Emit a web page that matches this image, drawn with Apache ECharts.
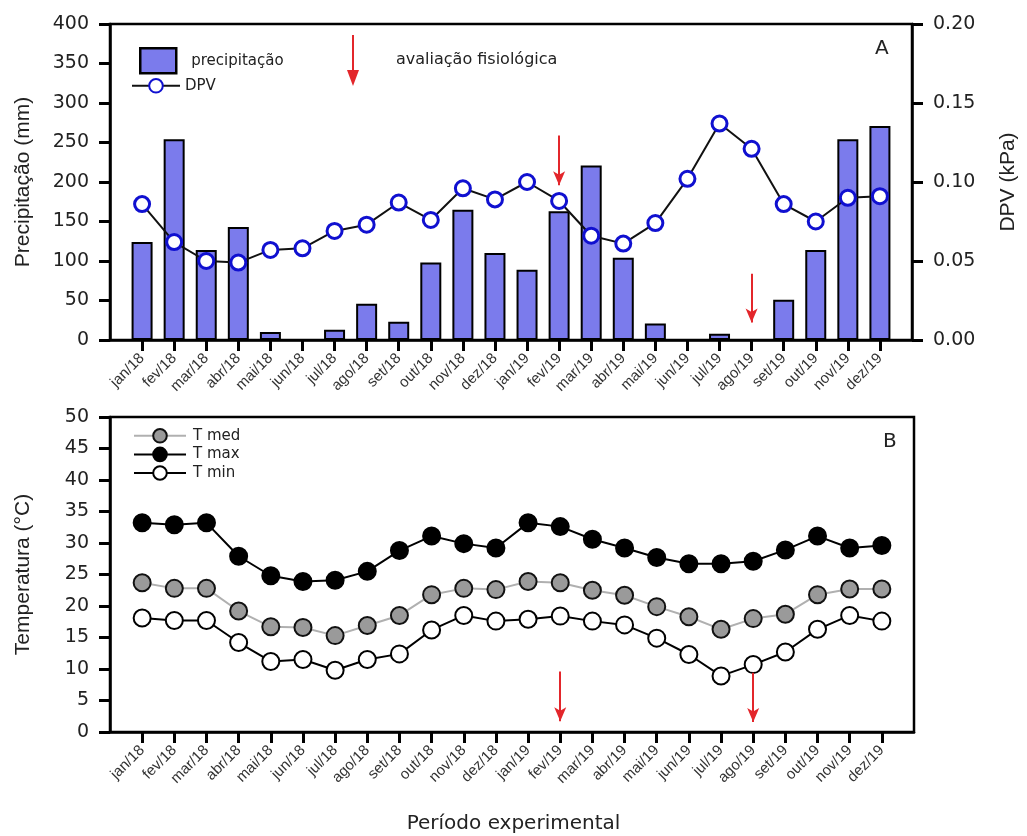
<!DOCTYPE html>
<html>
<head>
<meta charset="utf-8">
<script src="https://cdn.jsdelivr.net/npm/echarts@6/dist/echarts.min.js"></script>
<style>html,body{margin:0;padding:0;background:#fff;}#c{width:1027px;height:836px;}</style>
</head>
<body>
<div id="c"></div>
<script>
const months = ['jan/18','fev/18','mar/18','abr/18','mai/18','jun/18','jul/18','ago/18','set/18','out/18','nov/18','dez/18',
                'jan/19','fev/19','mar/19','abr/19','mai/19','jun/19','jul/19','ago/19','set/19','out/19','nov/19','dez/19'];
const precipitacao = [124,254,114,143,10,0,13,46,23,98,165,110,89,163,221,104,21,0,8,0,51,114,254,271];
const dpv = [0.086,0.062,0.050,0.049,0.057,0.058,0.069,0.073,0.087,0.076,0.096,0.089,
             0.100,0.088,0.066,0.061,0.074,0.102,0.137,0.121,0.086,0.075,0.090,0.091];
const tMed = [23.7,22.8,22.8,19.2,16.7,16.6,15.3,16.9,18.5,21.8,22.8,22.6,
              23.9,23.7,22.5,21.7,19.9,18.3,16.3,18.0,18.7,21.8,22.7,22.7];
const tMax = [33.2,32.9,33.2,27.9,24.8,23.9,24.1,25.5,28.8,31.1,29.9,29.2,
              33.2,32.6,30.6,29.2,27.7,26.7,26.7,27.1,28.9,31.1,29.2,29.6];
const tMin = [18.1,17.7,17.7,14.2,11.2,11.5,9.8,11.5,12.4,16.2,18.5,17.6,
              17.9,18.4,17.6,17.0,14.9,12.3,8.9,10.7,12.7,16.3,18.5,17.6];
const precipTicks = [0, 400, 50];
const dpvTicks = [0, 0.2, 0.05];
const tempTicks = [0, 50, 5];
// arrows: [category, from, to]
const arrowsTop = [['fev/19', 259, 196], ['ago/19', 84, 22]];
const arrowsBottom = [['fev/19', 9.6, 1.7], ['ago/19', 9.4, 1.6]];

const FONT = '"Liberation Sans", Arial, sans-serif';
const WIDE = '"DejaVu Sans", sans-serif';
const cats = [''].concat(months, ['']);
const pad = a => [null].concat(a, [null]);
const RED = '#e3262b';

function xAxis(gridIndex) {
  return {
    type: 'category', gridIndex, data: cats, boundaryGap: false,
    axisLine: { lineStyle: { color: '#000', width: 2.5 } },
    axisTick: { length: 11, lineStyle: { color: '#000', width: 3 }, interval: (i, v) => v !== '' },
    axisLabel: { rotate: 45, interval: 0, margin: 16, fontSize: 15, color: '#333', fontFamily: FONT },
    splitLine: { show: false }
  };
}
function yAxis(gridIndex, t, pos, name, nameGap, fmt) {
  return {
    type: 'value', gridIndex, min: t[0], max: t[1], interval: t[2], position: pos,
    name, nameLocation: 'middle', nameGap, nameRotate: 90,
    nameTextStyle: { fontSize: 21, color: '#222', fontFamily: FONT },
    axisLine: { show: true, lineStyle: { color: '#000', width: 2.5 } },
    axisTick: { show: true, length: 11, lineStyle: { color: '#000', width: 3 } },
    axisLabel: { margin: 21, fontSize: 19, color: '#222', fontFamily: WIDE, formatter: fmt },
    splitLine: { show: false }
  };
}
function arrowLine(list) {
  return {
    silent: true, symbol: ['none', 'arrow'], symbolSize: [9, 14],
    label: { show: false },
    lineStyle: { color: RED, width: 2, type: 'solid' },
    data: list.map(a => [{ coord: [a[0], a[1]] }, { coord: [a[0], a[2]] }])
  };
}

const chart = echarts.init(document.getElementById('c'));
chart.setOption({
  animation: false,
  backgroundColor: '#fff',
  grid: [
    { left: 110, top: 24, width: 804, height: 316, show: true, borderColor: '#000', borderWidth: 2.5, backgroundColor: 'transparent' },
    { left: 110, top: 417, width: 804, height: 315, show: true, borderColor: '#000', borderWidth: 2.5, backgroundColor: 'transparent' }
  ],
  xAxis: [xAxis(0), xAxis(1)],
  yAxis: [
    yAxis(0, precipTicks, 'left', 'Precipitação (mm)', 76),
    yAxis(0, dpvTicks, 'right', 'DPV (kPa)', 86, v => v.toFixed(2)),
    yAxis(1, tempTicks, 'left', 'Temperatura (°C)', 76)
  ],
  legend: [
    { data: ['precipitação'], left: 134, top: 42, icon: 'rect', itemWidth: 36, itemHeight: 25, itemGap: 0,
      itemStyle: { borderColor: '#000', borderWidth: 2.5 },
      textStyle: { fontSize: 15, color: '#222', fontFamily: WIDE, padding: [0, 0, 0, 10] } },
    { data: ['DPV'], left: 126, top: 73, itemWidth: 48, itemHeight: 17,
      textStyle: { fontSize: 15, color: '#222', fontFamily: WIDE, padding: [0, 0, 0, 0] } },
    { data: ['T med', 'T max', 'T min'], orient: 'vertical', left: 128, top: 423, itemWidth: 52, itemHeight: 17, itemGap: 3,
      textStyle: { fontSize: 15, color: '#222', fontFamily: WIDE, padding: [0, 0, 0, 2] } }
  ],
  series: [
    { name: 'precipitação', type: 'bar', xAxisIndex: 0, yAxisIndex: 0, data: pad(precipitacao), barWidth: 21,
      itemStyle: { color: '#7b7bec', borderColor: '#000', borderWidth: 2 },
      markLine: arrowLine(arrowsTop) },
    { name: 'DPV', type: 'line', xAxisIndex: 0, yAxisIndex: 1, data: pad(dpv), z: 5,
      symbol: 'circle', symbolSize: 15, showAllSymbol: true,
      lineStyle: { color: '#111', width: 2 },
      itemStyle: { color: '#fff', borderColor: '#1010d0', borderWidth: 3 } },
    { name: 'T med', type: 'line', xAxisIndex: 1, yAxisIndex: 2, data: pad(tMed),
      symbol: 'circle', symbolSize: 17, showAllSymbol: true,
      lineStyle: { color: '#b0b0b0', width: 2 },
      itemStyle: { color: '#9a9a9a', borderColor: '#111', borderWidth: 2 } },
    { name: 'T max', type: 'line', xAxisIndex: 1, yAxisIndex: 2, data: pad(tMax),
      symbol: 'circle', symbolSize: 17, showAllSymbol: true,
      lineStyle: { color: '#000', width: 2 },
      itemStyle: { color: '#000', borderColor: '#000', borderWidth: 2 } },
    { name: 'T min', type: 'line', xAxisIndex: 1, yAxisIndex: 2, data: pad(tMin),
      symbol: 'circle', symbolSize: 17, showAllSymbol: true,
      lineStyle: { color: '#000', width: 2 },
      itemStyle: { color: '#fff', borderColor: '#000', borderWidth: 2 },
      markLine: arrowLine(arrowsBottom) }
  ],
  graphic: [
    { type: 'line', silent: true, shape: { x1: 353, y1: 35, x2: 353, y2: 76 }, style: { stroke: RED, lineWidth: 2 } },
    { type: 'polygon', silent: true, shape: { points: [[347, 70], [359, 70], [353, 86]] }, style: { fill: RED } },
    { type: 'text', left: 396, top: 52, style: { text: 'avaliação fisiológica', font: '16px ' + WIDE, fill: '#222' } },
    { type: 'text', left: 875, top: 39, style: { text: 'A', font: '20px ' + WIDE, fill: '#222' } },
    { type: 'text', left: 883, top: 432, style: { text: 'B', font: '20px ' + WIDE, fill: '#222' } },
    { type: 'text', left: 'center', top: 814, style: { text: 'Período experimental', font: '20px ' + WIDE, fill: '#222' } }
  ]
});
</script>
</body>
</html>
